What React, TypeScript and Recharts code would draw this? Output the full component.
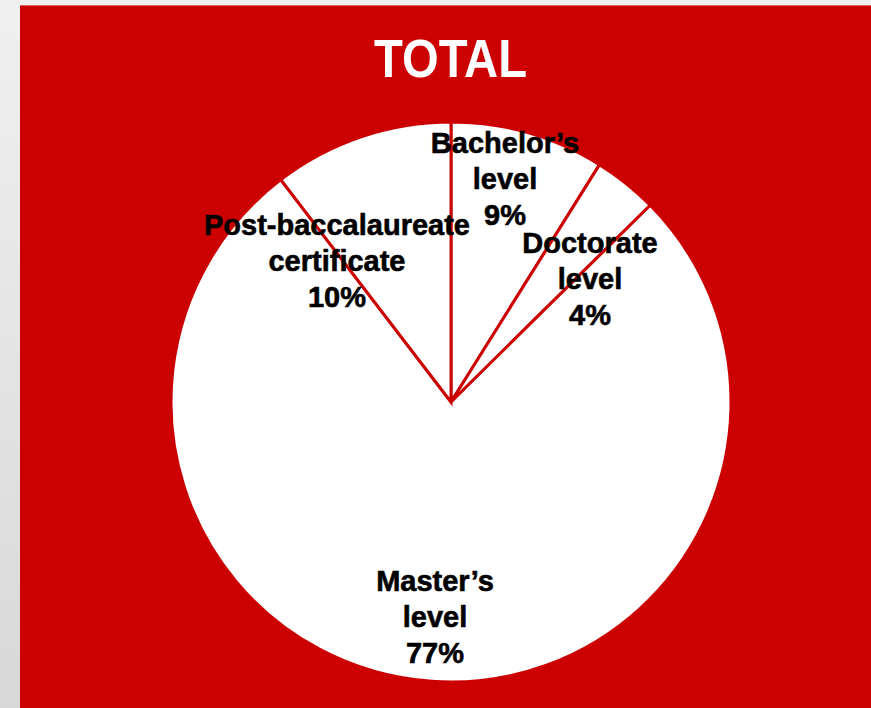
import React from "react"
import { PieChart, Pie, Cell } from "recharts"

const categories = ["Bachelor's level", "Doctorate level", "Master's level", "Post-baccalaureate certificate"]
const shares = [8.9, 3.7, 77.0, 10.4]
const percentLabels = ["9%", "4%", "77%", "10%"]
const labelLines = [
  ["Bachelor\u2019s", "level"],
  ["Doctorate", "level"],
  ["Master\u2019s", "level"],
  ["Post-baccalaureate", "certificate"],
]

const data = categories.map((name, i) => ({ name, value: shares[i] }))

// label block placement relative to pie centre (hand placed, like the original)
const labelPlacement = [
  { dx: 54, dy: -249 },
  { dx: 139, dy: -149 },
  { dx: -16, dy: 189 },
  { dx: -114, dy: -167 },
]

const RED = "#cc0000"
const FONT = '"Liberation Sans", Arial, sans-serif'

function SliceLabel(props: any) {
  const { cx, cy, index } = props
  const p = labelPlacement[index]
  const lines = [...labelLines[index], percentLabels[index]]
  return (
    <text
      x={cx + p.dx}
      y={cy + p.dy}
      textAnchor="middle"
      fill="#000"
      stroke="#000"
      strokeWidth={0.6}
      fontFamily={FONT}
      fontWeight="bold"
      fontSize={29}
    >
      {lines.map((l, i) => (
        <tspan key={i} x={cx + p.dx} dy={i === 0 ? 0 : 36}>
          {l}
        </tspan>
      ))}
    </text>
  )
}

export default function App() {
  return (
    <div
      style={{
        position: "fixed",
        left: 0,
        top: 0,
        width: 871,
        height: 708,
        background: "linear-gradient(#f0f0f0, #d8d8d8)",
        overflow: "hidden",
      }}
    >
      <div
        style={{
          position: "absolute",
          left: 20,
          top: 5,
          width: 851,
          height: 703,
          background: RED,
          borderTop: "1px solid #e06060",
          boxSizing: "border-box",
        }}
      >
        <svg width={851} height={703} style={{ position: "absolute", left: 0, top: 0 }}>
          <text
            x={354}
            y={71}
            textLength={153}
            lengthAdjust="spacingAndGlyphs"
            fill="#fff"
            fontFamily={FONT}
            fontWeight="bold"
            fontSize={53}
          >
            TOTAL
          </text>
        </svg>
        <div style={{ position: "absolute", left: 0, top: -1 }}>
          <PieChart width={851} height={703}>
            <Pie
              data={data}
              dataKey="value"
              nameKey="name"
              cx={426}
              cy={392}
              outerRadius={280}
              startAngle={90}
              endAngle={-270}
              stroke={RED}
              strokeWidth={3}
              label={SliceLabel}
              labelLine={false}
              isAnimationActive={false}
            >
              {data.map((d) => (
                <Cell key={d.name} fill="#ffffff" />
              ))}
            </Pie>
          </PieChart>
        </div>
      </div>
    </div>
  )
}
